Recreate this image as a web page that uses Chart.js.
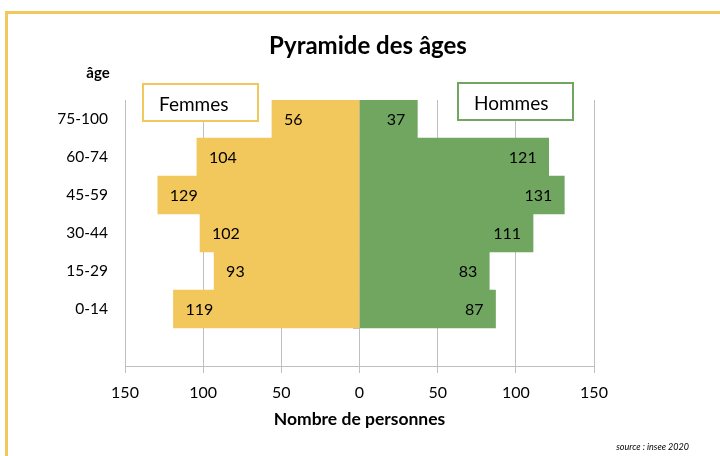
<!DOCTYPE html>
<html>
  <head>
    <script src="https://cdn.jsdelivr.net/npm/chart.js@4.4.1/dist/chart.umd.min.js"></script>
    <style>
      body { margin: 0; background: #fff; }
      #wrap { position: relative; width: 720px; height: 456px; overflow: hidden; }
      #frame { position: absolute; left: 5px; top: 11px; width: 740px; height: 480px;
               border: 3px solid #F2C75C; pointer-events: none; }
    </style>
  </head>

  <body>
    <div id="wrap">
      <canvas id="canvas" width="720" height="456"></canvas>
      <div id="frame"></div>
    </div>
    <script>
      const ageGroups = ['75-100', '60-74', '45-59', '30-44', '15-29', '0-14', ''];
      const femmes = [56, 104, 129, 102, 93, 119];
      const hommes = [37, 121, 131, 111, 83, 87];
      const xTicks = [-150, -100, -50, 0, 50, 100, 150];

      const yellow = '#F2C75C';
      const green = '#70A660';
      const font = 'Lato';

      const decorations = {
        id: 'decorations',
        afterDraw(chart) {
          const ctx = chart.ctx;
          ctx.save();
          ctx.fillStyle = '#000';
          ctx.textBaseline = 'middle';

          // value labels inside the bar ends
          ctx.font = '16px ' + font;
          chart.getDatasetMeta(0).data.forEach((bar, i) => {
            ctx.textAlign = 'left';
            ctx.fillText(femmes[i], bar.x + 12, bar.y + 1);
          });
          chart.getDatasetMeta(1).data.forEach((bar, i) => {
            ctx.textAlign = 'right';
            ctx.fillText(hommes[i], bar.x - 12, bar.y + 1);
          });

          // title
          ctx.textAlign = 'center';
          ctx.font = 'bold 24px ' + font;
          ctx.fillText('Pyramide des âges', 368, 46);
          ctx.font = 'bold 15px ' + font;
          ctx.fillText('âge', 98, 73);

          // legend boxes
          const box = (x, y, w, h, color, text) => {
            ctx.fillStyle = '#fff';
            ctx.fillRect(x, y, w, h);
            ctx.strokeStyle = color;
            ctx.lineWidth = 2;
            ctx.strokeRect(x, y, w, h);
            ctx.fillStyle = '#000';
            ctx.textAlign = 'left';
            ctx.font = '19px ' + font;
            ctx.fillText(text, x + 16, y + h / 2 + 2);
          };
          box(143, 84, 115, 37, yellow, 'Femmes');
          box(458, 83, 115, 37, green, 'Hommes');

          // source
          ctx.textAlign = 'right';
          ctx.font = 'italic 9px ' + font;
          ctx.fillText('source : insee 2020', 689, 447);
          ctx.restore();
        }
      };

      new Chart(document.getElementById('canvas').getContext('2d'), {
        type: 'bar',
        data: {
          labels: ageGroups,
          datasets: [
            {
              label: 'Femmes',
              data: femmes.map((v) => -v),
              backgroundColor: yellow,
              barPercentage: 1,
              categoryPercentage: 1,
            },
            {
              label: 'Hommes',
              data: hommes,
              backgroundColor: green,
              barPercentage: 1,
              categoryPercentage: 1,
            },
          ],
        },
        plugins: [decorations],
        options: {
          indexAxis: 'y',
          responsive: false,
          animation: false,
          layout: {
            padding: { top: 100, left: 10, right: 126, bottom: 26 },
          },
          plugins: {
            legend: { display: false },
            tooltip: { enabled: false },
          },
          scales: {
            x: {
              stacked: true,
              min: -150,
              max: 150,
              afterBuildTicks: (scale) => {
                scale.ticks = xTicks.map((v) => ({ value: v }));
              },
              afterFit: (scale) => {
                scale.height = 64;
              },
              grid: { color: '#bfbfbf', tickLength: 7 },
              border: { color: '#bfbfbf' },
              ticks: {
                color: '#000',
                padding: 10,
                font: { family: font, size: 16 },
                callback: (v) => Math.abs(v),
              },
              title: {
                display: true,
                text: 'Nombre de personnes',
                color: '#000',
                font: { family: font, size: 17.5, weight: 'bold' },
                padding: { top: 4, bottom: 0 },
              },
            },
            y: {
              stacked: true,
              afterFit: (scale) => {
                scale.width = 115;
              },
              grid: { display: false, drawTicks: false },
              border: { display: false },
              ticks: {
                color: '#000',
                padding: 17,
                font: { family: font, size: 15.5 },
              },
            },
            y2: {
              type: 'category',
              axis: 'y',
              position: { x: 0 },
              offset: true,
              grid: { offset: true, drawOnChartArea: false, tickLength: 6, color: '#bfbfbf' },
              border: { color: '#bfbfbf' },
              ticks: { display: false },
            },
          },
        },
      });
    </script>
  </body>
</html>
